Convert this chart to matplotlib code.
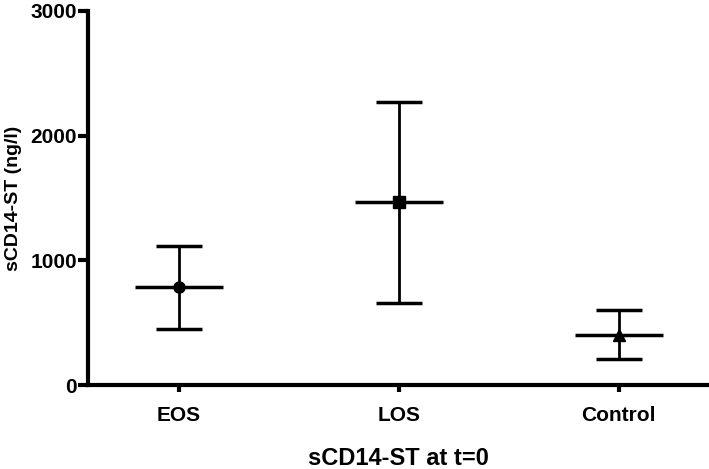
import numpy as np
import matplotlib.pyplot as plt

plt.rcParams['font.family'] = ['Liberation Sans', 'DejaVu Sans']
plt.rcParams['font.weight'] = 'bold'

groups = ["EOS", "LOS", "Control"]
centers = [782, 1464, 405]
upper = [1118, 2267, 600]
lower = [448, 661, 211]
markers = ["o", "s", "^"]

x = np.arange(1, len(groups) + 1)
centers = np.array(centers)
yerr = [centers - np.array(lower), np.array(upper) - centers]

fig = plt.figure(figsize=(7.09, 4.69), dpi=100)
ax = fig.add_axes([0.124, 0.179, 0.876, 0.798])

for i in range(len(groups)):
    ax.errorbar(x[i], centers[i], yerr=[[yerr[0][i]], [yerr[1][i]]],
                fmt=markers[i], color='black', ms=8, elinewidth=2,
                capsize=16.5, capthick=2.5)
ax.hlines(centers, x - 0.2, x + 0.2, color='black', lw=2.5)

ax.set_xlim(0.586, 3.41)
ax.set_ylim(0, 3000)
ax.set_yticks([0, 1000, 2000, 3000])
ax.set_xticks(x)
ax.set_xticklabels(groups)

for s in ['top', 'right']:
    ax.spines[s].set_visible(False)
for s in ['left', 'bottom']:
    ax.spines[s].set_linewidth(3)
ax.tick_params(axis='y', length=7, width=3, labelsize=15, pad=1)
ax.tick_params(axis='x', length=5, width=3, labelsize=15, pad=10)

ax.set_ylabel('sCD14-ST (ng/l)', fontsize=14, fontweight='bold', labelpad=6)
ax.set_xlabel('sCD14-ST at t=0', fontsize=17, fontweight='bold', labelpad=16)

fig.savefig('out.png', dpi=100)
